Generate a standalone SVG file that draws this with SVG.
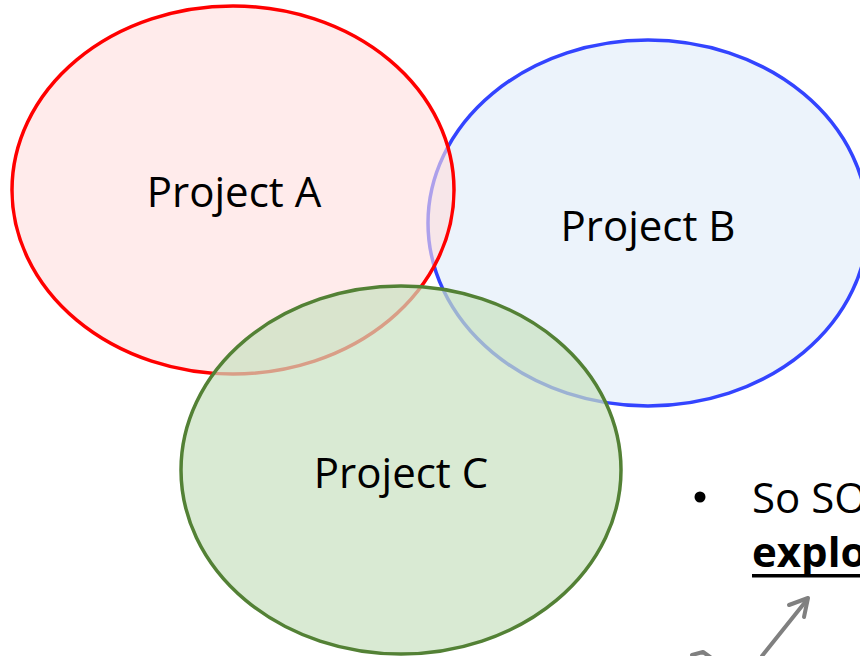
<svg xmlns="http://www.w3.org/2000/svg" width="860" height="656" viewBox="0 0 860 656">
<style>
.lbl{font-family:"Open Sans","Liberation Sans",sans-serif;font-size:42px;fill:#000}
.ell{stroke-width:3.5}
</style>
<rect width="860" height="656" fill="#fff"/>
<g id="projectB">
<ellipse class="ell" cx="648" cy="223" rx="220" ry="183" fill="#ECF3FB" stroke="#3344FF"/>
<text class="lbl" x="648" y="241" text-anchor="middle">Project B</text>
</g>
<g id="projectA">
<ellipse class="ell" cx="233" cy="190" rx="221" ry="184" fill="#FFDEDE" fill-opacity="0.6" stroke="#FF0000"/>
<text class="lbl" x="234" y="207" text-anchor="middle">Project A</text>
</g>
<g id="projectC">
<ellipse cx="401" cy="470" rx="220" ry="184" fill="#C9E1C0" fill-opacity="0.7"/>
<ellipse class="ell" cx="401" cy="470" rx="220" ry="184" fill="none" stroke="#538135"/>
<text class="lbl" x="401" y="488" text-anchor="middle">Project C</text>
</g>
<g id="bullet">
<circle cx="700" cy="497" r="5.5" fill="#000"/>
<text class="lbl" x="752" y="513">So SO</text>
<text class="lbl" x="752" y="567" font-weight="bold">explo</text>
<rect x="752" y="574" width="108" height="3.5" fill="#000"/>
</g>
<g id="connectors" fill="none" stroke="#808080" stroke-width="4" stroke-linecap="round" stroke-linejoin="round">
<line x1="762" y1="656" x2="806" y2="601"/>
<polyline points="789,605 808,598 804,617"/>
<polyline points="692,655 703,652 710,657"/>
</g>
</svg>
